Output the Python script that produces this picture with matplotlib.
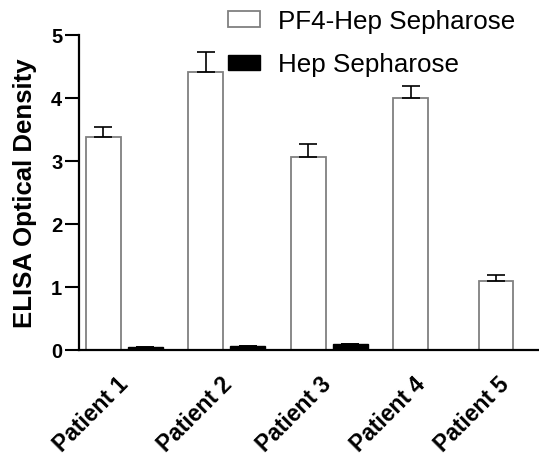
import numpy as np
import matplotlib
matplotlib.use("Agg")
import matplotlib.pyplot as plt

patients = ["Patient 1", "Patient 2", "Patient 3", "Patient 4", "Patient 5"]
pf4_hep = [3.38, 4.41, 3.06, 4.00, 1.09]
pf4_hep_err = [0.16, 0.32, 0.21, 0.19, 0.10]
hep = [0.04, 0.05, 0.08, np.nan, np.nan]
hep_err = [0.0, 0.0, 0.01, np.nan, np.nan]
yticks = [0, 1, 2, 3, 4, 5]

plt.rcParams['font.family'] = ['Liberation Sans', 'DejaVu Sans']

fig = plt.figure(figsize=(5.39, 4.60), dpi=100)
ax = fig.add_axes([79/539, (460-350.5)/460, (539-79)/539, (350.5-35.7)/460])

group_pos = np.array([0.0, 1.0, 2.0, 3.0, 3.83])
width = 0.34
pf4_x = group_pos + width/2
hep_x = group_pos + 0.41 + width/2

ax.bar(pf4_x, pf4_hep, width=width, color='white', edgecolor='#808080', linewidth=1.3,
       label='PF4-Hep Sepharose', zorder=2)
ax.errorbar(pf4_x, pf4_hep, yerr=[np.zeros(5), pf4_hep_err], fmt='none', ecolor='black',
            elinewidth=1.2, capsize=6.8, capthick=1.2, zorder=3)
ax.bar(hep_x, hep, width=width, color='black', edgecolor='black', linewidth=1.0,
       label='Hep Sepharose', zorder=2)
ax.errorbar(hep_x, hep, yerr=[np.zeros(5), hep_err], fmt='none', ecolor='black',
            elinewidth=1.2, capsize=6.8, capthick=1.2, zorder=3)

ax.set_xlim(-0.068, 4.42)
ax.set_ylim(0, 5)
ax.set_yticks(yticks)
ax.set_yticklabels([str(t) for t in yticks], fontsize=14.5, fontweight='bold')
tick_pos = [0.30, 1.31, 2.28, 3.20, 4.02]
ax.set_xticks(tick_pos)
ax.set_xticklabels(patients, rotation=45, ha='right', va='top', rotation_mode='anchor',
                   fontsize=16.5, fontweight='bold')
ax.tick_params(axis='x', length=0, pad=16)
ax.tick_params(axis='y', length=10, width=1.5, pad=2)

for s in ['top', 'right']:
    ax.spines[s].set_visible(False)
for s in ['left', 'bottom']:
    ax.spines[s].set_linewidth(1.6)

ax.set_ylabel('ELISA Optical Density', fontsize=18.5, fontweight='bold')
ax.yaxis.set_label_coords((37-79)/460, 0.5)

fig.legend(loc='upper left', bbox_to_anchor=(228/539, 1 - 10/460), frameon=False,
           fontsize=18.7, handlelength=1.23, handleheight=0.54, handletextpad=0.69,
           labelspacing=0.75, borderpad=0, borderaxespad=0)

fig.savefig('out.png', dpi=100)
